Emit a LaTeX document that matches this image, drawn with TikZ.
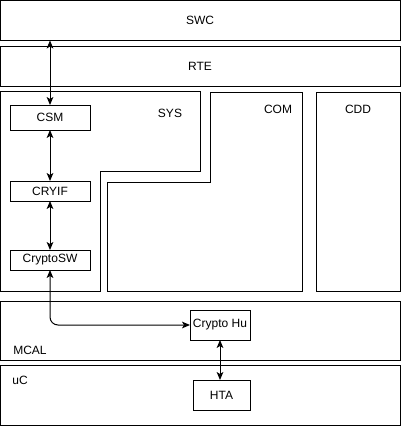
\documentclass[tikz,border=0pt]{standalone}
\usepackage{fontspec}
\setmainfont{Liberation Sans}
\usetikzlibrary{arrows.meta}
\begin{document}
\begin{tikzpicture}[x=0.75pt,y=-0.75pt,
  every node/.style={font=\fontsize{9pt}{11pt}\selectfont, inner sep=0pt, outer sep=0pt},
  box/.style={draw, line width=0.75pt, anchor=north west},
  lbl/.style={},
  conn/.style={line width=0.75pt, {Stealth[length=6pt,width=5pt,inset=1.5pt]}-{Stealth[length=6pt,width=5pt,inset=1.5pt]}},
  wall/.style={draw, line width=0.75pt}]
\useasboundingbox (0,0) rectangle (401,426);
% layers
\node[box, minimum width=400*0.75pt, minimum height=40*0.75pt] (SWC) at (0.5,0.5) {};
\node at (200,20) {SWC};
\node[box, minimum width=400*0.75pt, minimum height=40*0.75pt] (RTE) at (0.5,46) {};
\node at (200,66) {RTE};
% SYS
\draw[wall] (0.5,91) -- (200,91) -- (200,171) -- (100,171) -- (100,291) -- (0.5,291) -- cycle;
\node (SYS) at (170,113) {SYS};
% COM
\draw[wall] (210,92) -- (302,92) -- (302,291) -- (107,291) -- (107,182) -- (210,182) -- cycle;
\node (COM) at (278,109) {COM};
% CDD
\node[box, minimum width=84*0.75pt, minimum height=199*0.75pt] (CDDb) at (316,92) {};
\node (CDD) at (358,109) {CDD};
% SYS boxes
\node[draw, line width=0.75pt, minimum width=80*0.75pt, minimum height=25*0.75pt] (CSM) at (50,117.5) {CSM};
\node[draw, line width=0.75pt, minimum width=80*0.75pt, minimum height=20*0.75pt] (CRYIF) at (50,191) {CRYIF};
\node[draw, line width=0.75pt, minimum width=80*0.75pt, minimum height=20*0.75pt] (CryptoSW) at (50,260) {CryptoSW};
% MCAL
\node[box, minimum width=400*0.75pt, minimum height=59*0.75pt] (MCALb) at (0.5,301) {};
\node (MCAL) at (30,350) {MCAL};
\node[draw, line width=0.75pt, minimum width=60*0.75pt, minimum height=30*0.75pt] (CryptoHu) at (220,325) {Crypto Hu};
% uC
\node[box, minimum width=400*0.75pt, minimum height=60*0.75pt] (uCb) at (0.5,365) {};
\node (uC) at (20,380) {uC};
\node[draw, line width=0.75pt, minimum width=57*0.75pt, minimum height=30*0.75pt] (HTA) at (221.5,395) {HTA};
% connectors
\draw[conn] (CSM.north) -- (CSM.north |- SWC.south);
\draw[conn] (CSM.south) -- (CRYIF.north);
\draw[conn] (CRYIF.south) -- (CryptoSW.north);
\draw[conn, rounded corners=6pt] (CryptoSW.south) |- (CryptoHu.west);
\draw[conn] (CryptoHu.south) -- (CryptoHu.south |- HTA.north);
\end{tikzpicture}
\end{document}
